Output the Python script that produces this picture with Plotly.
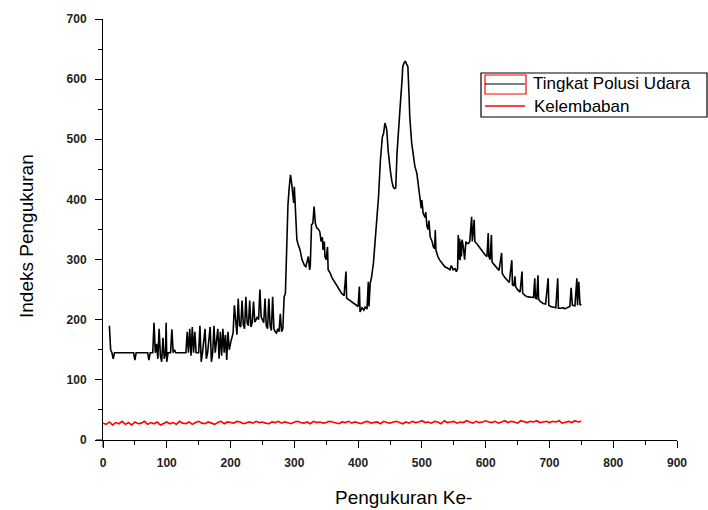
import plotly.graph_objects as go

# Tingkat Polusi Udara (black series): measurement index and value
poll_x = [10,12,14,16,18,22,30,40,48,50,
          52,60,70,72,74,78,80,82,84,86,
          88,90,92,94,96,98,99,100,102,106,
          108,110,112,114,120,130,132,134,136,138,
          140,142,144,146,150,152,154,156,160,162,
          164,168,170,172,174,176,180,182,184,186,
          188,190,192,194,196,198,200,202,204,206,
          208,210,212,214,216,218,220,222,224,226,
          228,230,232,234,236,238,240,242,244,246,
          248,250,252,254,256,258,260,262,264,266,
          268,270,272,274,276,278,280,282,284,286,
          288,290,292,294,296,297,299,300,302,304,
          306,309,312,314,316,318,320,322,324,325,
          327,329,331,333,335,338,340,342,344,345,
          347,348,350,352,353,356,359,362,366,370,
          374,378,381,382,386,390,394,398,400,402,
          403,406,409,411,414,416,417,419,421,424,
          427,429,432,435,438,440,442,444,445,447,
          449,451,453,455,457,459,461,464,467,469,
          470,472,474,476,478,480,481,484,487,489,
          492,494,497,499,500,502,505,506,508,510,
          511,513,516,518,520,521,522,525,528,531,
          536,540,544,546,549,552,554,556,557,558,
          559,560,561,562,563,565,567,569,570,573,
          575,578,579,582,583,587,591,595,599,602,
          604,605,607,609,610,613,617,621,625,626,
          630,633,637,641,642,644,646,647,650,654,
          657,658,662,666,670,675,677,678,680,682,
          683,686,690,694,698,699,702,706,710,713,
          714,718,722,724,728,732,734,736,740,743,
          744,746,748,750]
poll_y = [190,150,145,135,145,145,145,145,145,133,
          145,145,145,133,145,145,195,145,160,135,
          185,140,130,170,135,145,195,130,145,145,
          184,145,150,145,145,145,180,145,185,140,
          188,145,180,145,145,190,130,145,185,135,
          145,188,130,145,190,145,185,135,180,140,
          185,145,175,133,180,150,161,170,178,224,
          190,175,235,190,188,232,192,185,238,195,
          190,232,188,195,230,196,200,205,200,250,
          205,200,195,235,190,185,235,190,182,238,
          185,180,178,185,180,210,180,185,238,244,
          316,391,420,441,425,413,394,421,380,333,
          325,316,300,294,290,288,295,305,283,290,
          358,360,388,360,353,350,346,330,337,316,
          330,305,300,321,283,278,270,265,258,250,
          244,240,280,236,233,230,228,224,222,255,
          213,220,216,221,218,263,222,261,270,294,
          330,361,404,466,504,510,527,520,515,482,
          460,444,430,421,418,419,477,532,571,600,
          621,627,630,625,621,570,537,494,466,455,
          444,427,394,385,399,377,370,379,355,350,
          365,338,330,321,318,349,316,305,299,295,
          288,286,283,290,283,285,280,285,341,300,
          335,299,330,305,333,321,300,330,327,327,
          330,371,330,366,330,325,319,313,308,305,
          344,305,300,341,296,292,286,282,311,277,
          270,266,262,299,258,256,272,255,250,246,
          280,244,240,238,237,237,269,236,235,274,
          234,230,227,226,269,224,222,221,220,269,
          219,219,220,218,220,222,253,224,223,269,
          224,263,224,226]

# Kelembaban (red series): one value every 5 measurements, from 0
humidity = [28,26,30,25,29,27,31,26,29,25,30,27,28,31,26,29,27,30,25,28,
            30,27,29,26,31,28,27,30,26,29,31,28,27,30,28,26,29,31,27,30,
            29,28,31,30,27,29,30,28,31,29,30,28,27,30,29,31,28,30,29,27,
            30,31,29,28,30,27,31,29,30,28,29,31,30,28,27,30,29,31,28,30,
            29,27,30,31,28,29,30,27,31,29,28,30,31,29,27,30,28,31,29,30,
            32,29,30,28,31,30,27,32,29,30,31,28,30,29,32,30,28,31,29,30,
            32,30,29,31,28,30,32,29,31,30,28,32,30,29,31,30,32,29,30,31,
            29,31,30,32,28,30,31,29,32,30,31]
humidity_x = [5 * i for i in range(len(humidity))]

x_ticks = [0, 100, 200, 300, 400, 500, 600, 700, 800, 900]
y_ticks = [0, 100, 200, 300, 400, 500, 600, 700]

series_names = ["Tingkat Polusi Udara", "Kelembaban"]

fig = go.Figure()
fig.add_trace(go.Scatter(x=poll_x, y=poll_y, mode="lines", name=series_names[0],
                         line=dict(color="black", width=1.6), showlegend=False))
fig.add_trace(go.Scatter(x=humidity_x, y=humidity, mode="lines", name=series_names[1],
                         line=dict(color="#ff0000", width=1.6), showlegend=False))

tickfont = dict(family="Liberation Sans, Arial, sans-serif", size=12, color="#222", weight="bold")
fig.update_xaxes(range=[0, 900], tickvals=x_ticks, ticktext=[str(v) for v in x_ticks],
                 showline=True, linecolor="black", linewidth=1, ticks="outside",
                 ticklen=7, tickcolor="black", tickwidth=1, showgrid=False, zeroline=False,
                 tickfont=tickfont, ticklabelstandoff=5,
                 minor=dict(dtick=50, ticks="outside", ticklen=4, tickcolor="black", tickwidth=1))
fig.update_yaxes(range=[0, 700], tickvals=y_ticks, ticktext=[str(v) for v in y_ticks],
                 showline=True, linecolor="black", linewidth=1, ticks="outside",
                 ticklen=7, tickcolor="black", tickwidth=1, showgrid=False, zeroline=False,
                 tickfont=tickfont, ticklabelstandoff=6,
                 minor=dict(dtick=50, ticks="outside", ticklen=4, tickcolor="black", tickwidth=1))

W, H = 708, 510
L, R, T, B = 103, 31, 19, 70
pw, ph = W - L - R, H - T - B

def px(xp):
    return (xp - L) / pw

def py(yp):
    return (H - B - yp) / ph

shapes = [
    # axis extensions past the origin
    dict(type="line", xref="paper", yref="paper", x0=px(96), x1=px(103), y0=0, y1=0,
         line=dict(color="black", width=1)),
    dict(type="line", xref="paper", yref="paper", x0=0, x1=0, y0=py(447), y1=py(440),
         line=dict(color="black", width=1)),
    # legend box
    dict(type="rect", xref="paper", yref="paper", x0=px(481), x1=px(707), y0=py(117), y1=py(73),
         line=dict(color="black", width=1.2), fillcolor="white"),
    dict(type="rect", xref="paper", yref="paper", x0=px(485), x1=px(526), y0=py(94), y1=py(75),
         line=dict(color="#ff0000", width=1.2)),
    dict(type="line", xref="paper", yref="paper", x0=px(485), x1=px(525), y0=py(84), y1=py(84),
         line=dict(color="black", width=1.2)),
    dict(type="line", xref="paper", yref="paper", x0=px(485), x1=px(525), y0=py(106), y1=py(106),
         line=dict(color="#ff0000", width=1.3)),
]

legfont = dict(family="Liberation Sans, Arial, sans-serif", size=17, color="black")
titlefont = dict(family="Liberation Sans, Arial, sans-serif", size=19, color="black")
annotations = [
    dict(text=series_names[0], xref="paper", yref="paper", x=px(531), y=py(84),
         xanchor="left", yanchor="middle", showarrow=False, font=legfont),
    dict(text=series_names[1], xref="paper", yref="paper", x=px(532), y=py(106),
         xanchor="left", yanchor="middle", showarrow=False, font=legfont),
    dict(text="Pengukuran Ke-", xref="paper", yref="paper", x=px(403), y=py(497),
         xanchor="center", yanchor="middle", showarrow=False, font=titlefont),
    dict(text="Indeks Pengukuran", xref="paper", yref="paper", x=px(27), y=py(236),
         xanchor="center", yanchor="middle", showarrow=False, font=titlefont, textangle=-90),
]

fig.update_layout(width=W, height=H, margin=dict(l=L, r=R, t=T, b=B),
                  paper_bgcolor="white", plot_bgcolor="white",
                  shapes=shapes, annotations=annotations, showlegend=False)

fig.write_html("out.html")
